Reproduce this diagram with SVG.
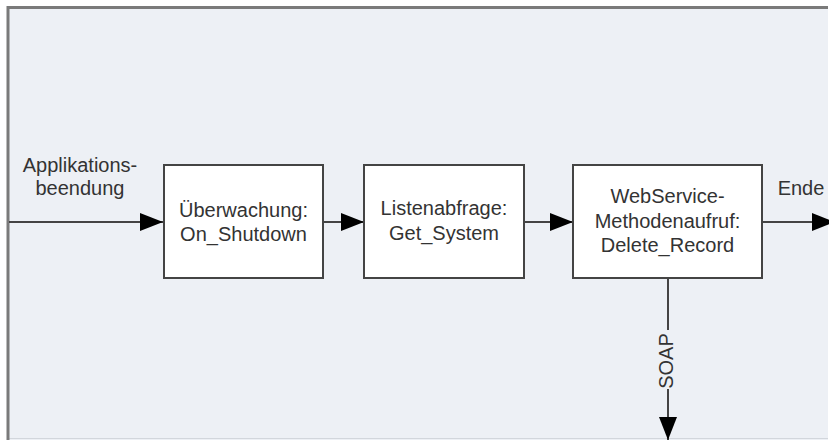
<svg xmlns="http://www.w3.org/2000/svg" width="829" height="440" viewBox="0 0 829 440">
  <style>
    .lbl { font-family: "Liberation Sans", Arial, sans-serif; font-size: 20px; fill: #333333; text-anchor: middle; }
    .box { fill: #ffffff; stroke: #444444; stroke-width: 2; }
    .flow { fill: none; stroke: #444444; stroke-width: 2; }
  </style>
  <defs>
    <marker id="arrow" markerUnits="userSpaceOnUse" markerWidth="24" markerHeight="20" refX="23" refY="9" orient="auto">
      <path d="M0,0 L23,9 L0,18 Z" fill="#000000"/>
    </marker>
  </defs>

  <rect width="829" height="440" fill="#ffffff"/>
  <!-- frame: dark top and left edges, faint bottom edge -->
  <rect x="8" y="7" width="820" height="433" fill="#edf0f5"/>
  <line x1="8" y1="438.5" x2="828" y2="438.5" stroke="#d2d6dc" stroke-width="1"/>
  <path d="M8,440 V7.5 H828" fill="none" stroke="#7a7a7a" stroke-width="3"/>

  <g id="connectors">
    <line class="flow" x1="9" y1="222" x2="163" y2="222" marker-end="url(#arrow)"/>
    <line class="flow" x1="323" y1="222" x2="364" y2="222" marker-end="url(#arrow)"/>
    <line class="flow" x1="524" y1="222" x2="573" y2="222" marker-end="url(#arrow)"/>
    <line class="flow" x1="762" y1="222" x2="835" y2="222" marker-end="url(#arrow)"/>
    <line class="flow" x1="668" y1="278" x2="668" y2="330"/>
    <line class="flow" x1="668" y1="389" x2="668" y2="440" marker-end="url(#arrow)"/>
    <text class="lbl" x="80" y="172">Applikations-</text>
    <text class="lbl" x="80" y="195">beendung</text>
    <text class="lbl" x="801" y="195">Ende</text>
    <text class="lbl" transform="translate(673,361) rotate(-90)">SOAP</text>
  </g>

  <g id="node-ueberwachung">
    <rect class="box" x="164" y="165" width="159" height="113"/>
    <text class="lbl" x="243.5" y="217">Überwachung:</text>
    <text class="lbl" x="243.5" y="241">On_Shutdown</text>
  </g>

  <g id="node-listenabfrage">
    <rect class="box" x="364" y="165" width="160" height="113"/>
    <text class="lbl" x="444" y="215">Listenabfrage:</text>
    <text class="lbl" x="444" y="240">Get_System</text>
  </g>

  <g id="node-webservice">
    <rect class="box" x="573" y="165" width="189" height="113"/>
    <text class="lbl" x="667.5" y="203">WebService-</text>
    <text class="lbl" x="667.5" y="228">Methodenaufruf:</text>
    <text class="lbl" x="667.5" y="252">Delete_Record</text>
  </g>
</svg>
